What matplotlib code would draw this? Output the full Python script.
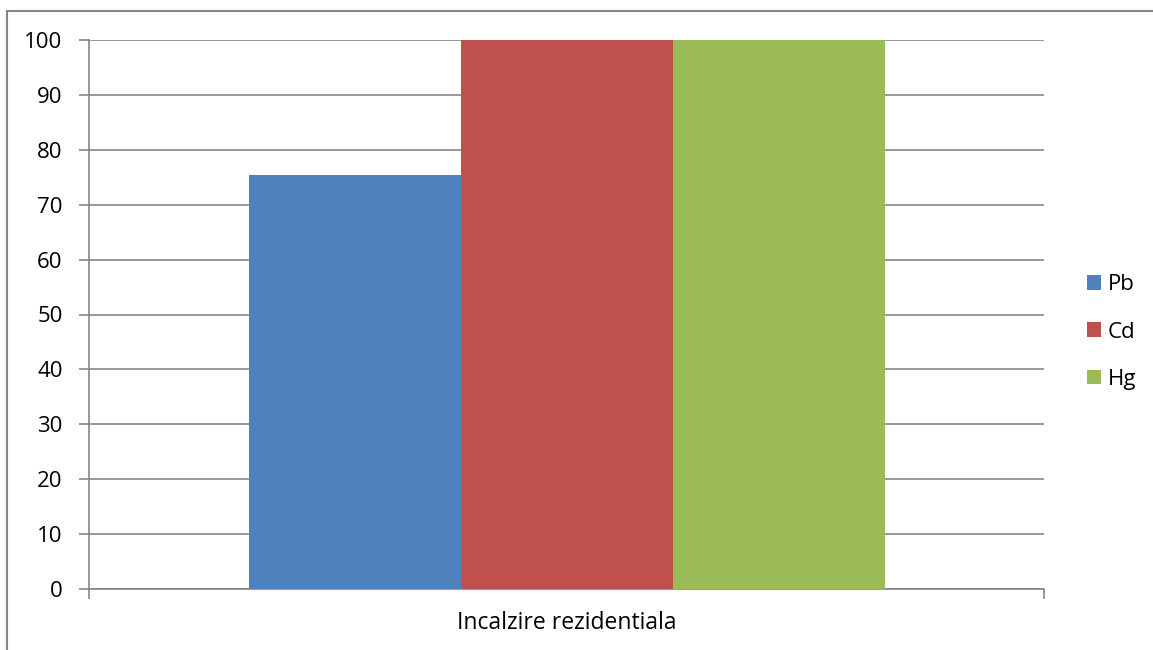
import matplotlib
matplotlib.use("Agg")
import matplotlib.pyplot as plt
from matplotlib.patches import Rectangle, Patch
import numpy as np

categories = ["Incalzire rezidentiala"]
series = ["Pb", "Cd", "Hg"]
values = [75.5, 100, 100]
colors = ["#4F81BD", "#C0504D", "#9BBB59"]
yticks = [0, 10, 20, 30, 40, 50, 60, 70, 80, 90, 100]

plt.rcParams['font.family'] = ['Open Sans', 'DejaVu Sans']
W, H = 1153, 650
fig = plt.figure(figsize=(W / 100, H / 100), dpi=100)
ax = fig.add_axes([89 / W, 1 - 589 / H, (1044 - 89) / W, (589 - 40) / H])

grid_c = "#868686"
bw = 212 / 955
offsets = [(i - 1) * bw for i in range(len(series))]
for i, s in enumerate(series):
    ax.bar(0 + offsets[i], values[i], width=bw, color=colors[i], label=s, zorder=3)

ax.set_xlim(-0.5, 0.5)
ax.set_ylim(0, 100)
ax.set_yticks(yticks)
ax.set_yticklabels([str(v) for v in yticks], fontsize=16)
ax.yaxis.grid(True, color=grid_c, linewidth=1.2, zorder=0)
ax.set_xticks([-0.5, 0.5])
ax.set_xticklabels(["", ""])
ax.tick_params(axis='y', length=7, color=grid_c, width=1.2, pad=12)
ax.tick_params(axis='x', length=7, color=grid_c, width=1.2)
ax.text(0, -0.062, categories[0], transform=ax.get_xaxis_transform(), ha='center', va='center', fontsize=16.5)
for sp in ['top', 'right']:
    ax.spines[sp].set_visible(False)
ax.spines['left'].set_color(grid_c)
ax.spines['bottom'].set_color(grid_c)
ax.spines['left'].set_linewidth(1.2)
ax.spines['bottom'].set_linewidth(1.2)

handles = [Patch(facecolor=c, label=s) for s, c in zip(series, colors)]
fig.legend(handles=handles, loc='center left', bbox_to_anchor=(1087 / W, 1 - 332 / H),
           frameon=False, fontsize=16, handlelength=0.62, handleheight=0.62,
           handletextpad=0.3, labelspacing=1.18, borderaxespad=0, borderpad=0)

fig.patches.append(Rectangle((7 / W, -0.1), 1.2, 1 - 11 / H + 0.1, transform=fig.transFigure,
                             fill=False, edgecolor=grid_c, linewidth=1.5))

fig.savefig("out.png", dpi=100)
